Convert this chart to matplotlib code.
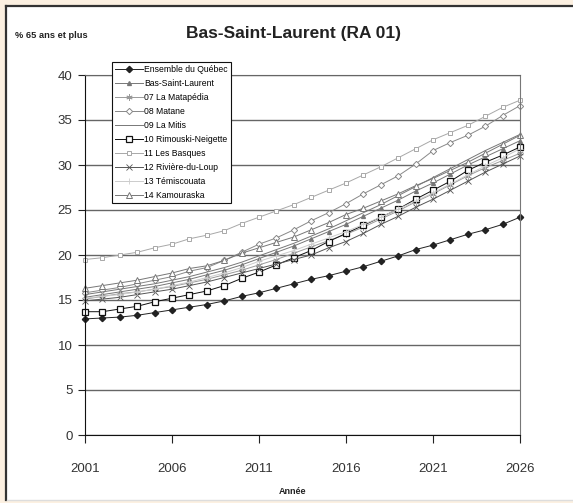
import matplotlib.pyplot as plt
from matplotlib.lines import Line2D
from matplotlib.patches import Rectangle

plt.rcParams['font.family'] = ['Liberation Sans', 'DejaVu Sans']

# % de la population agée de 65 ans et plus, 2001-2026
years = list(range(2001, 2027))

quebec = [12.9, 13.0, 13.1, 13.3, 13.6, 13.9, 14.2, 14.5, 14.9, 15.4, 15.8, 16.3, 16.8, 17.3,
          17.7, 18.2, 18.7, 19.3, 19.9, 20.6, 21.1, 21.7, 22.3, 22.8, 23.4, 24.2]
bas_st_laurent = [15.3, 15.6, 15.9, 16.2, 16.5, 16.9, 17.3, 17.8, 18.3, 18.9, 19.6, 20.3, 21.0, 21.8,
                  22.6, 23.4, 24.3, 25.2, 26.1, 27.1, 28.0, 29.0, 30.0, 30.9, 31.8, 32.7]
matapedia = [15.1, 15.4, 15.7, 15.9, 16.2, 16.5, 16.9, 17.3, 17.8, 18.3, 18.9, 19.5, 20.2, 20.9,
             21.6, 22.3, 23.1, 24.0, 24.9, 25.9, 26.8, 27.8, 28.8, 29.7, 30.5, 31.3]
matane = [15.8, 16.1, 16.4, 16.8, 17.2, 17.6, 18.2, 18.6, 19.4, 20.3, 21.2, 21.9, 22.8, 23.8,
          24.7, 25.7, 26.8, 27.8, 28.8, 30.1, 31.6, 32.5, 33.3, 34.3, 35.5, 36.6]
mitis = [15.6, 15.9, 16.2, 16.5, 16.8, 17.2, 17.6, 18.1, 18.6, 19.2, 19.9, 20.6, 21.3, 22.1,
         22.9, 23.8, 24.7, 25.6, 26.6, 27.6, 28.6, 29.6, 30.6, 31.6, 32.5, 33.4]
rimouski = [13.7, 13.7, 14.0, 14.3, 14.8, 15.2, 15.6, 16.0, 16.6, 17.4, 18.1, 18.9, 19.7, 20.5,
            21.5, 22.4, 23.3, 24.2, 25.1, 26.2, 27.2, 28.2, 29.4, 30.3, 31.1, 32.0]
basques = [19.5, 19.7, 20.0, 20.3, 20.8, 21.2, 21.8, 22.2, 22.7, 23.5, 24.2, 24.9, 25.6, 26.4,
           27.2, 28.0, 28.9, 29.8, 30.8, 31.8, 32.8, 33.6, 34.4, 35.4, 36.4, 37.2]
riviere_loup = [14.9, 15.1, 15.3, 15.6, 15.9, 16.2, 16.6, 17.0, 17.5, 18.0, 18.5, 19.0, 19.5, 20.0,
                20.8, 21.5, 22.4, 23.4, 24.3, 25.3, 26.2, 27.2, 28.2, 29.2, 30.1, 31.0]
temiscouata = [15.2, 15.4, 15.6, 15.9, 16.2, 16.6, 17.0, 17.5, 18.0, 18.6, 19.3, 19.9, 20.5, 21.2,
               21.9, 22.6, 23.4, 24.2, 25.1, 26.0, 26.9, 27.9, 28.9, 29.9, 30.8, 31.8]
kamouraska = [16.3, 16.6, 16.9, 17.2, 17.6, 18.0, 18.5, 18.8, 19.4, 20.2, 20.8, 21.4, 22.0, 22.8,
              23.6, 24.5, 25.2, 26.0, 26.8, 27.7, 28.5, 29.4, 30.3, 31.3, 32.3, 33.3]

fig = plt.figure(figsize=(5.73, 5.03), dpi=100)
fig.patch.set_facecolor('#fcf0e1')

# white panel with dark border on left and top
fig.patches.append(Rectangle((7 / 573, 3 / 503), 1, 494 / 503, transform=fig.transFigure,
                             facecolor='white', edgecolor='none', zorder=-2))
fig.lines.append(Line2D([6 / 573, 6 / 573], [3 / 503, 497 / 503], transform=fig.transFigure,
                        color='#333333', lw=1.6, zorder=-1))
fig.lines.append(Line2D([6 / 573, 1], [497 / 503, 497 / 503], transform=fig.transFigure,
                        color='#333333', lw=1.6, zorder=-1))
fig.lines.append(Line2D([7 / 573, 1], [3 / 503, 3 / 503], transform=fig.transFigure,
                        color='#dddddd', lw=1.0, zorder=-1))

ax = fig.add_axes([85 / 573, 68 / 503, 435 / 573, 360 / 503])

series = [
    ("Ensemble du Québec", quebec, dict(color='#222222', marker='D', ms=3.2, mfc='#222222')),
    ("Bas-Saint-Laurent", bas_st_laurent, dict(color='#777777', marker='^', ms=2.8, mfc='#777777')),
    ("07 La Matapédia", matapedia, dict(color='#9a9a9a', marker=(6, 2, 0), ms=4.5, mew=0.6)),
    ("08 Matane", matane, dict(color='#888888', marker='D', ms=3.2, mfc='white', mew=0.7)),
    ("09 La Mitis", mitis, dict(color='#777777')),
    ("10 Rimouski-Neigette", rimouski, dict(color='#111111', marker='s', ms=4.6, mfc='white', mew=0.9)),
    ("11 Les Basques", basques, dict(color='#a8a8a8', marker='s', ms=3.2, mfc='white', mew=0.7)),
    ("12 Rivière-du-Loup", riviere_loup, dict(color='#555555', marker='x', ms=3.8, mew=0.6)),
    ("13 Témiscouata", temiscouata, dict(color='#cccccc', marker='+', ms=4.5, mew=0.6)),
    ("14 Kamouraska", kamouraska, dict(color='#777777', marker='^', ms=4.6, mfc='white', mew=0.7)),
]
for label, vals, style in series:
    ax.plot(years, vals, lw=0.7, label=label, clip_on=False, **style)

ax.set_xlim(2001, 2026)
ax.set_ylim(0, 40)
ax.set_xticks([2001, 2006, 2011, 2016, 2021, 2026])
ax.set_yticks(range(0, 41, 5))
ax.yaxis.grid(True, color='#666666', lw=1.0)
ax.set_axisbelow(True)
ax.tick_params(axis='x', direction='out', length=6, pad=14, labelsize=9.5, colors='#333333')
ax.tick_params(axis='y', direction='out', length=5, pad=4, labelsize=9.5, colors='#333333')
ax.tick_params(axis='both', color='#222222')
ax.spines['left'].set_color('#111111')
ax.spines['bottom'].set_color('#111111')
ax.spines['top'].set_color('#666666')
ax.spines['right'].set_color('#777777')

leg = ax.legend(loc='upper left', bbox_to_anchor=(0.062, 1.035), fontsize=6.2, frameon=True,
                fancybox=False, framealpha=1, edgecolor='#111111', handlelength=3.3,
                handletextpad=0.1, labelspacing=0.58, borderpad=0.35, borderaxespad=0)
leg.get_frame().set_linewidth(0.8)
leg.set_zorder(5)

fig.text(0.512, 1 - 33 / 503, "Bas-Saint-Laurent (RA 01)", ha='center', va='center',
         fontsize=12.5, fontweight='bold', color='#222222')
fig.text(15 / 573, 1 - 35 / 503, "% 65 ans et plus", ha='left', va='center',
         fontsize=6.7, fontweight='bold', color='#222222')
fig.text(0.51, 1 - 492 / 503, "Année", ha='center', va='center',
         fontsize=6.5, fontweight='bold', color='#222222')

fig.savefig("out.png", dpi=100, facecolor=fig.get_facecolor())
